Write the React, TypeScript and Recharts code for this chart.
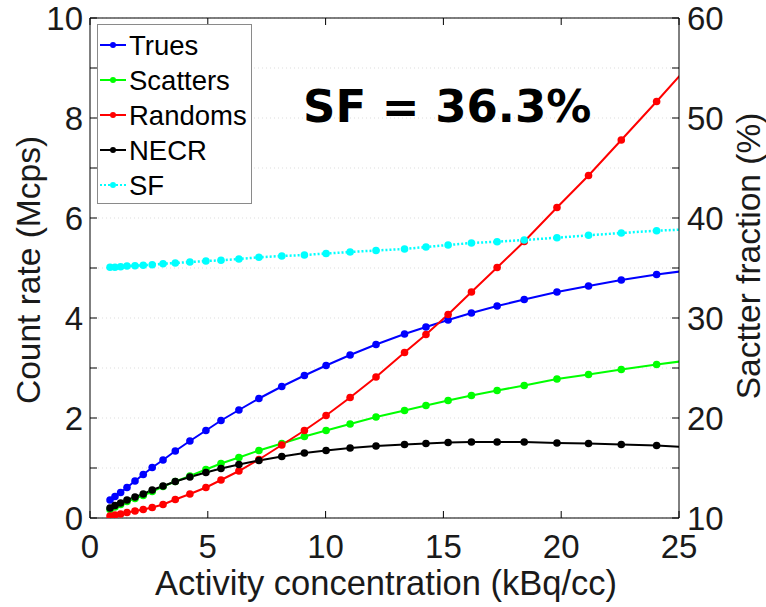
import { ComposedChart, Line, XAxis, YAxis, CartesianGrid } from 'recharts'

// activity concentration (kBq/cc)
const activity = [0.85, 1.06, 1.3, 1.57, 1.91, 2.26, 2.64, 3.1, 3.62, 4.24, 4.92, 5.56, 6.32, 7.17, 8.14, 9.1, 10.02, 11.04, 12.14, 13.35, 14.26, 15.2, 16.19, 17.28, 18.43, 19.82, 21.16, 22.55, 24.05, 25.7]
// count rates (Mcps)
const trues = [0.36, 0.43, 0.51, 0.61, 0.74, 0.87, 1.01, 1.16, 1.34, 1.54, 1.75, 1.95, 2.16, 2.39, 2.63, 2.85, 3.05, 3.26, 3.47, 3.68, 3.82, 3.96, 4.1, 4.24, 4.37, 4.52, 4.64, 4.76, 4.87, 4.97]
const scatters = [0.17, 0.22, 0.27, 0.33, 0.39, 0.45, 0.53, 0.63, 0.73, 0.84, 0.97, 1.09, 1.21, 1.35, 1.49, 1.63, 1.75, 1.88, 2.02, 2.15, 2.25, 2.35, 2.45, 2.55, 2.65, 2.78, 2.87, 2.97, 3.07, 3.17]
const randoms = [0.04, 0.06, 0.08, 0.11, 0.14, 0.17, 0.21, 0.27, 0.37, 0.48, 0.61, 0.76, 0.94, 1.17, 1.46, 1.75, 2.05, 2.41, 2.82, 3.31, 3.67, 4.07, 4.52, 5.01, 5.53, 6.21, 6.85, 7.56, 8.33, 9.2]
const necr = [0.2, 0.25, 0.3, 0.36, 0.42, 0.48, 0.56, 0.64, 0.73, 0.82, 0.91, 0.99, 1.07, 1.15, 1.23, 1.3, 1.35, 1.4, 1.44, 1.47, 1.49, 1.51, 1.52, 1.52, 1.52, 1.5, 1.49, 1.47, 1.45, 1.41]
// scatter fraction (%)
const sf = [35.07, 35.08, 35.13, 35.2, 35.23, 35.27, 35.33, 35.43, 35.5, 35.6, 35.7, 35.77, 35.9, 36.07, 36.2, 36.3, 36.45, 36.6, 36.75, 36.9, 37.1, 37.3, 37.5, 37.63, 37.8, 38.03, 38.27, 38.5, 38.73, 38.9]

const xTicks = [0, 5, 10, 15, 20, 25]
const leftTicks = [0, 1, 2, 3, 4, 5, 6, 7, 8, 9, 10]
const rightTicks = [10, 15, 20, 25, 30, 35, 40, 45, 50, 55, 60]

const series = [
  { key: 'trues', name: 'Trues', color: '#0000FF', axis: 'left', dash: undefined },
  { key: 'scatters', name: 'Scatters', color: '#00FF00', axis: 'left', dash: undefined },
  { key: 'randoms', name: 'Randoms', color: '#FF0000', axis: 'left', dash: undefined },
  { key: 'necr', name: 'NECR', color: '#000000', axis: 'left', dash: undefined },
  { key: 'sf', name: 'SF', color: '#00FFFF', axis: 'right', dash: '2 2' },
]

const rows = activity.map((a, i) => ({
  activity: a,
  trues: trues[i],
  scatters: scatters[i],
  randoms: randoms[i],
  necr: necr[i],
  sf: sf[i],
}))

const FONT = '"Liberation Sans", Arial, sans-serif'
const INK = '#1a1a1a'

// eslint-disable-next-line @typescript-eslint/no-explicit-any
const LeftTick = ({ x, y, payload }: any) => (
  <g>
    <line x1={x} y1={y} x2={x + 7} y2={y} stroke="#000" />
    {payload.value % 2 === 0 && (
      <text x={x - 7} y={y} textAnchor="end" dominantBaseline="central" fontSize={33} fontFamily={FONT} fill={INK}>
        {payload.value}
      </text>
    )}
  </g>
)

// eslint-disable-next-line @typescript-eslint/no-explicit-any
const RightTick = ({ x, y, payload }: any) => (
  <g>
    <line x1={x} y1={y} x2={x - 7} y2={y} stroke="#000" />
    {payload.value % 10 === 0 && (
      <text x={x + 8} y={y} textAnchor="start" dominantBaseline="central" fontSize={33} fontFamily={FONT} fill={INK}>
        {payload.value}
      </text>
    )}
  </g>
)

// eslint-disable-next-line @typescript-eslint/no-explicit-any
const BottomTick = ({ x, y, payload }: any) => (
  <g>
    <line x1={x} y1={y} x2={x} y2={y - 7} stroke="#000" />
    <text x={x} y={y + 28} textAnchor="middle" dominantBaseline="central" fontSize={33} fontFamily={FONT} fill={INK}>
      {payload.value}
    </text>
  </g>
)

// eslint-disable-next-line @typescript-eslint/no-explicit-any
const TopTick = ({ x, y }: any) => <line x1={x} y1={y} x2={x} y2={y + 7} stroke="#000" />

export default function App() {
  return (
    <div style={{ position: 'absolute', left: 0, top: 0, width: 766, height: 607, background: '#fff' }}>
      <ComposedChart width={766} height={607} data={rows} margin={{ top: 0, right: 0, bottom: 0, left: 0 }}>
        <CartesianGrid yAxisId="left" vertical={false} stroke="#dddddd" strokeDasharray="1 3" />
        <XAxis
          dataKey="activity" type="number" domain={[0, 25]} ticks={xTicks} allowDataOverflow
          height={89} tickSize={0} tickMargin={0} interval={0} tick={<BottomTick />}
          axisLine={{ stroke: '#000' }} tickLine={false}
        />
        <XAxis
          xAxisId="top" orientation="top" dataKey="activity" type="number" domain={[0, 25]} ticks={xTicks} allowDataOverflow
          height={18} tickSize={0} tickMargin={0} interval={0} tick={<TopTick />}
          axisLine={{ stroke: '#000' }} tickLine={false}
        />
        <YAxis
          yAxisId="left" domain={[0, 10]} ticks={leftTicks} allowDataOverflow
          width={90} tickSize={0} tickMargin={0} interval={0} tick={<LeftTick />}
          axisLine={{ stroke: '#000' }} tickLine={false}
        />
        <YAxis
          yAxisId="right" orientation="right" domain={[10, 60]} ticks={rightTicks} allowDataOverflow
          width={87} tickSize={0} tickMargin={0} interval={0} tick={<RightTick />}
          axisLine={{ stroke: '#000' }} tickLine={false}
        />
        {series.map((s) => (
          <Line
            key={s.key}
            yAxisId={s.axis}
            dataKey={s.key}
            type="linear"
            stroke={s.color}
            strokeWidth={s.dash ? 2.5 : 2}
            strokeDasharray={s.dash}
            dot={{ r: 3.8, fill: s.color, stroke: 'none', strokeDasharray: undefined }}
            isAnimationActive={false}
          />
        ))}
      </ComposedChart>
      <svg width={766} height={607} style={{ position: 'absolute', left: 0, top: 0, pointerEvents: 'none' }}>
        <text x={386} y={583} textAnchor="middle" dominantBaseline="central" fontSize={34.5} fontFamily={FONT} fill={INK}>
          Activity concentration (kBq/cc)
        </text>
        <text transform="translate(28,270) rotate(-90)" textAnchor="middle" dominantBaseline="central" fontSize={33.5} fontFamily={FONT} fill={INK}>
          Count rate (Mcps)
        </text>
        <text transform="translate(748,256) rotate(-90)" textAnchor="middle" dominantBaseline="central" fontSize={33.5} fontFamily={FONT} fill={INK}>
          Sactter fraction (%)
        </text>
        <text x={303} y={122} fontSize={45} fontWeight="bold" fontFamily='"DejaVu Sans", Verdana, sans-serif' fill="#000">
          SF = 36.3%
        </text>
        <rect x={97.5} y={24.5} width={154} height={179} fill="#fff" stroke="#8a8a8a" />
        {series.map((s, i) => (
          <g key={s.key}>
            <line x1={100} x2={126} y1={45 + i * 35} y2={45 + i * 35} stroke={s.color} strokeWidth={2} strokeDasharray={s.dash} />
            <circle cx={113} cy={45 + i * 35} r={3} fill={s.color} />
            <text x={129} y={45 + i * 35} dominantBaseline="central" fontSize={27.5} fontFamily={FONT} fill="#000">
              {s.name}
            </text>
          </g>
        ))}
      </svg>
    </div>
  )
}
